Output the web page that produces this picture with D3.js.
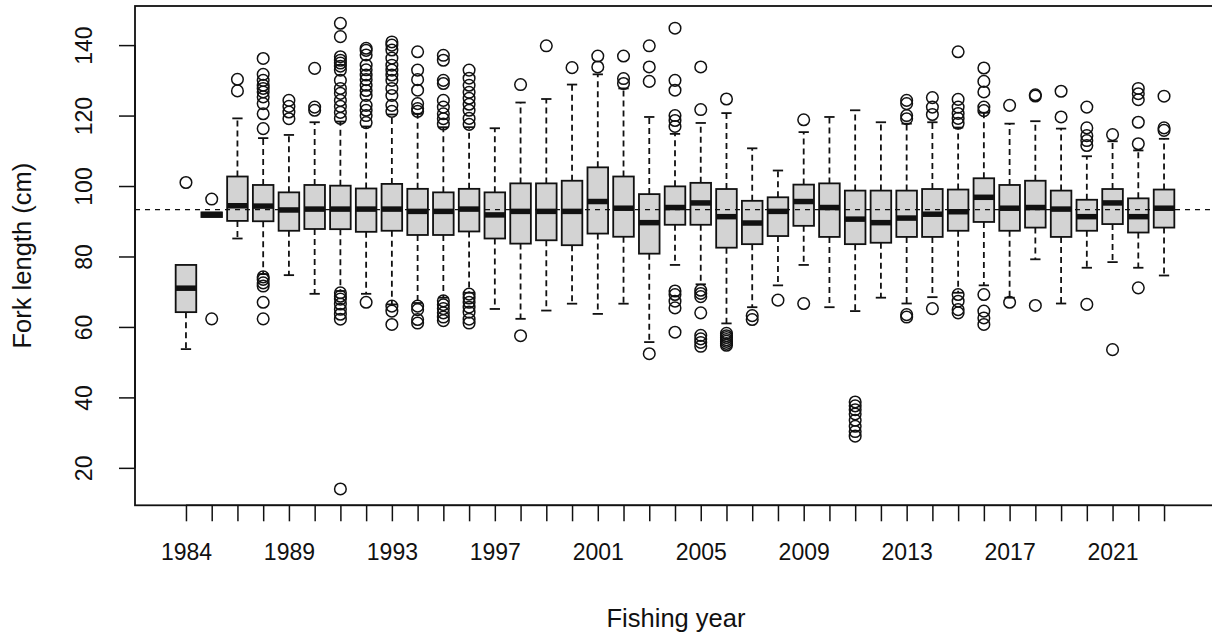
<!DOCTYPE html>
<html>
<head>
<meta charset="utf-8">
<script src="https://cdn.jsdelivr.net/npm/d3@7"></script>
<style>
  html, body { margin: 0; padding: 0; background: #fff; }
  svg { display: block; }
  text { font-family: "Liberation Sans", Arial, sans-serif; fill: #111; }
</style>
</head>
<body>
<svg id="chart" width="1212" height="635"></svg>
<script>
// Fork length distribution by fishing year
const years = ["1984","1986","1987","1988","1989","1990","1991","1992","1993","1994",
  "1995","1996","1997","1998","1999","2000","2001","2002","2003","2004",
  "2005","2006","2007","2008","2009","2010","2011","2012","2013","2014",
  "2015","2016","2017","2018","2019","2020","2021","2022","2023"];

const whiskerLow = [53.7, 91.2, 85.1, 75.0, 74.7, 69.4, 70.2, 69.4, 66.4, 66.8,
  68.3, 69.7, 65.1, 62.3, 64.65, 66.6, 63.7, 66.6, 55.7, 77.6,
  72.1, 61.0, 65.6, 71.8, 77.6, 65.6, 64.5, 68.3, 66.65, 68.45,
  69.7, 71.8, 68.3, 79.2, 66.65, 76.8, 78.4, 76.8, 74.6];
const quartile1 = [64.2, 91.2, 90.1, 90.0, 87.3, 87.8, 87.75, 87.0, 87.3, 86.1,
  86.1, 87.1, 85.1, 83.65, 84.6, 83.2, 86.5, 85.6, 80.8, 89.0,
  89.0, 82.5, 83.5, 85.8, 88.7, 85.55, 83.5, 83.9, 85.55, 85.55,
  87.3, 89.8, 87.3, 88.2, 85.55, 87.3, 89.2, 86.8, 88.2];
const medians = [71.0, 91.9, 94.4, 94.3, 93.2, 93.45, 93.45, 93.45, 93.45, 92.8,
  92.8, 93.45, 91.8, 92.8, 92.8, 92.8, 95.6, 93.7, 89.6, 93.9,
  95.2, 91.3, 89.5, 92.8, 95.6, 93.9, 90.6, 89.6, 90.9, 92.0,
  92.7, 96.8, 93.7, 93.9, 93.45, 91.3, 95.2, 91.3, 93.7];
const quartile3 = [77.6, 92.5, 102.7, 100.3, 98.2, 100.3, 100.1, 99.3, 100.6, 99.2,
  98.2, 99.2, 98.2, 100.75, 100.75, 101.5, 105.3, 102.7, 97.7, 99.9,
  100.9, 99.15, 95.8, 96.8, 100.4, 100.75, 98.7, 98.7, 98.7, 99.15,
  99.0, 102.2, 100.3, 101.5, 98.7, 96.1, 99.15, 96.5, 99.0];
const whiskerHigh = [77.6, 92.5, 119.2, 113.6, 114.5, 118.1, 118.3, 116.9, 120.3, 120.5,
  116.7, 116.7, 116.4, 123.7, 124.7, 128.8, 131.7, 127.7, 119.6, 114.8,
  117.9, 120.7, 110.7, 104.4, 115.3, 119.6, 121.5, 118.1, 117.7, 118.1,
  116.6, 120.8, 117.7, 118.4, 116.3, 108.45, 112.7, 110.1, 113.4];
const outliers = [
  [101.0],
  [96.3, 62.3],
  [130.3, 127.0],
  [136.2, 131.7, 130.0, 128.6, 127.7, 126.7, 125.3, 123.4, 120.5, 116.3, 74.2, 73.5, 72.5, 71.6, 67.0, 62.3],
  [124.3, 122.6, 121.0, 119.1],
  [133.4, 122.4, 121.5],
  [146.2, 142.4, 136.7, 135.7, 134.9, 134.0, 132.9, 130.0, 127.7, 126.3, 124.3, 122.6, 120.9, 119.2, 69.7, 68.7, 67.9, 66.5, 65.0, 63.6, 62.2, 14.0],
  [139.1, 138.5, 137.2, 134.3, 133.0, 131.5, 130.2, 128.6, 127.1, 125.7, 122.9, 121.5, 120.0, 118.0, 67.0],
  [140.9, 140.0, 138.6, 136.3, 134.3, 132.9, 131.5, 130.0, 127.7, 125.7, 122.9, 121.2, 65.9, 64.5, 60.7],
  [138.1, 132.9, 130.2, 127.2, 123.4, 122.0, 121.2, 65.9, 64.9, 62.1, 61.1],
  [137.1, 135.7, 130.0, 129.1, 124.3, 122.4, 120.5, 119.1, 117.6, 67.4, 66.3, 65.2, 64.0, 62.8, 61.8],
  [132.9, 130.6, 128.6, 126.6, 124.9, 123.2, 121.5, 119.2, 117.5, 69.3, 68.2, 67.0, 65.6, 64.2, 62.2, 61.1],
  [],
  [128.8, 57.5],
  [139.8],
  [133.6],
  [136.9, 133.8],
  [136.9, 130.5, 129.1],
  [139.8, 133.8, 129.7, 52.4],
  [144.8, 130.0, 127.2, 120.0, 118.6, 116.9, 70.2, 69.2, 67.3, 65.4, 58.5],
  [133.8, 121.7, 70.4, 69.5, 68.6, 64.0, 57.6, 56.6, 55.6, 54.5],
  [124.7, 58.2, 57.5, 57.0, 56.4, 55.9, 55.3, 54.8],
  [63.2, 62.1],
  [67.6],
  [118.8, 66.65],
  [],
  [38.7, 37.6, 36.5, 35.3, 33.5, 31.8, 30.3, 29.0],
  [],
  [124.3, 123.4, 120.0, 119.1, 63.5, 62.8],
  [125.1, 122.4, 120.3, 65.2],
  [138.1, 124.6, 122.4, 120.6, 119.2, 117.8, 69.2, 67.3, 64.9, 64.0],
  [133.5, 129.7, 126.7, 122.4, 121.4, 69.2, 64.5, 62.55, 60.7],
  [122.9, 67.0],
  [125.9, 125.55, 66.1],
  [126.9, 119.6],
  [122.4, 116.5, 114.3, 112.9, 111.5, 66.4],
  [114.6, 53.55],
  [127.7, 126.2, 124.5, 118.1, 112.0, 71.1],
  [125.5, 116.5, 115.8]
];
const overallMedian = 93.3;
const yTicks = [20, 40, 60, 80, 100, 120, 140];
const xLabel = "Fishing year";
const yLabel = "Fork length (cm)";

const svg = d3.select("#chart");
const plot = { left: 135, right: 1215, top: 6, bottom: 505.3 };
const ink = "#111";

const x = d3.scalePoint().domain(years).range([plot.left, plot.right]).padding(1.98);
const y = d3.scaleLinear().domain([9.37, 151.1]).range([plot.bottom, plot.top]);
const step = x.step();
const boxW = step * 0.8;
const capW = boxW * 0.5;

const stats = years.map((yr, i) => ({
  year: yr, lo: whiskerLow[i], q1: quartile1[i], med: medians[i],
  q3: quartile3[i], hi: whiskerHigh[i], out: outliers[i]
}));

const g = svg.append("g");

// whiskers (dashed) and staples
const wh = g.append("g").attr("stroke", ink).attr("stroke-width", 1.8).attr("fill", "none");
stats.forEach(d => {
  const cx = x(d.year);
  if (d.hi > d.q3) {
    wh.append("line").attr("x1", cx).attr("x2", cx).attr("y1", y(d.q3)).attr("y2", y(d.hi))
      .attr("stroke-dasharray", "6,4");
    wh.append("line").attr("x1", cx - capW / 2).attr("x2", cx + capW / 2).attr("y1", y(d.hi)).attr("y2", y(d.hi));
  }
  if (d.lo < d.q1) {
    wh.append("line").attr("x1", cx).attr("x2", cx).attr("y1", y(d.q1)).attr("y2", y(d.lo))
      .attr("stroke-dasharray", "6,4");
    wh.append("line").attr("x1", cx - capW / 2).attr("x2", cx + capW / 2).attr("y1", y(d.lo)).attr("y2", y(d.lo));
  }
});

// boxes
g.append("g").selectAll("rect").data(stats).join("rect")
  .attr("x", d => x(d.year) - boxW / 2)
  .attr("width", boxW)
  .attr("y", d => y(d.q3))
  .attr("height", d => Math.max(0.5, y(d.q1) - y(d.q3)))
  .attr("fill", "#d3d3d3")
  .attr("stroke", ink)
  .attr("stroke-width", 1.8);

// medians
g.append("g").selectAll("line").data(stats).join("line")
  .attr("x1", d => x(d.year) - boxW / 2)
  .attr("x2", d => x(d.year) + boxW / 2)
  .attr("y1", d => y(d.med))
  .attr("y2", d => y(d.med))
  .attr("stroke", ink)
  .attr("stroke-width", 5.5);

// outlying points
const pts = stats.flatMap(d => d.out.map(v => ({ year: d.year, v })));
g.append("g").selectAll("circle").data(pts).join("circle")
  .attr("cx", d => x(d.year))
  .attr("cy", d => y(d.v))
  .attr("r", 5.8)
  .attr("fill", "none")
  .attr("stroke", ink)
  .attr("stroke-width", 1.5);

// reference line at the overall median
svg.append("line")
  .attr("x1", plot.left).attr("x2", plot.right)
  .attr("y1", y(overallMedian)).attr("y2", y(overallMedian))
  .attr("stroke", ink).attr("stroke-width", 1.4).attr("stroke-dasharray", "5,5");

// plot frame
svg.append("rect")
  .attr("x", plot.left).attr("y", plot.top)
  .attr("width", plot.right - plot.left).attr("height", plot.bottom - plot.top)
  .attr("fill", "none").attr("stroke", ink).attr("stroke-width", 1.8);

// x axis: a tick for every year, label every fourth
const xAxis = d3.axisBottom(x).tickSize(16).tickPadding(0)
  .tickFormat((d, i) => (i % 4 === 0 ? d : ""));
const gx = svg.append("g").attr("transform", `translate(0,${plot.bottom})`).call(xAxis);
gx.select(".domain").attr("d", `M${x(years[0])},0H${x(years[years.length - 1])}`)
  .attr("stroke", ink).attr("stroke-width", 1.5);
gx.selectAll(".tick line").attr("stroke", ink).attr("stroke-width", 1.5);
gx.selectAll(".tick text").attr("font-size", 23).attr("fill", ink)
  .attr("dy", null).attr("y", 55);

// y axis with rotated labels
const yAxis = d3.axisLeft(y).tickValues(yTicks).tickSize(16).tickFormat(d3.format("d"));
const gy = svg.append("g").attr("transform", `translate(${plot.left},0)`).call(yAxis);
gy.select(".domain").attr("d", `M0,${y(yTicks[0])}V${y(yTicks[yTicks.length - 1])}`)
  .attr("stroke", ink).attr("stroke-width", 1.5);
gy.selectAll(".tick line").attr("stroke", ink).attr("stroke-width", 1.5);
gy.selectAll(".tick text").attr("font-size", 23).attr("fill", ink)
  .attr("x", null).attr("dy", null)
  .attr("text-anchor", "middle")
  .attr("transform", `translate(${92 - plot.left},0) rotate(-90)`);

// axis titles
svg.append("text")
  .attr("x", (plot.left + plot.right) / 2 + 1).attr("y", 627)
  .attr("text-anchor", "middle").attr("font-size", 25.5)
  .text(xLabel);
svg.append("text")
  .attr("transform", `translate(31,${(plot.top + plot.bottom) / 2}) rotate(-90)`)
  .attr("text-anchor", "middle").attr("font-size", 25.5)
  .text(yLabel);
</script>
</body>
</html>
